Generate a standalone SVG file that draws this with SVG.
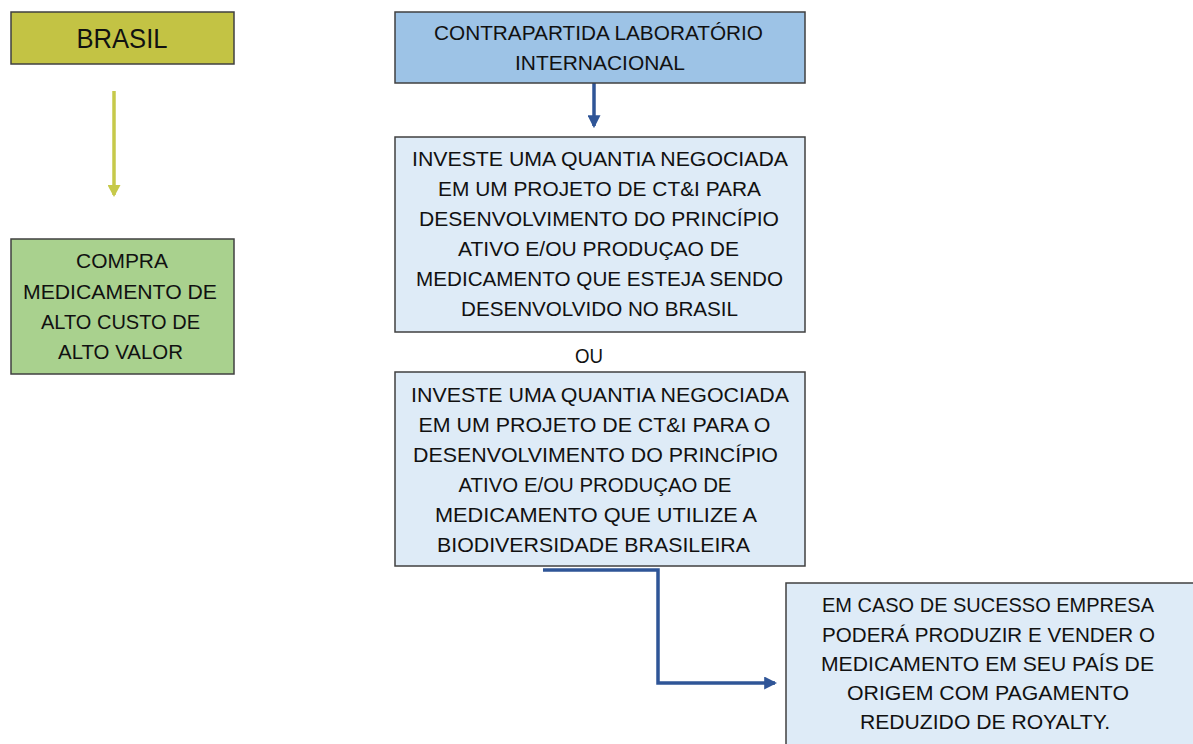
<svg xmlns="http://www.w3.org/2000/svg" width="1193" height="744" viewBox="0 0 1193 744">
<style>
.box{stroke:#404040;stroke-width:1.5}
.t{font-family:"Liberation Sans",Arial,sans-serif;font-size:21px;fill:#111;text-anchor:middle}
.conn{fill:none;stroke-width:3.5}
</style>
<defs>
<marker id="ab" markerUnits="userSpaceOnUse" markerWidth="13" markerHeight="13" refX="10" refY="6" orient="auto" viewBox="0 0 12 12">
<path d="M0,0 L12,6 L0,12 z" fill="#2F5597"/>
</marker>
<marker id="ay" markerUnits="userSpaceOnUse" markerWidth="13" markerHeight="13" refX="10" refY="6.5" orient="auto" viewBox="0 0 12 13">
<path d="M0,0 L12,6.5 L0,13 z" fill="#C6C94A"/>
</marker>
</defs>
<rect width="1193" height="744" fill="#ffffff"/>
<g id="connectors">
<line class="conn" x1="114" y1="91" x2="114" y2="195" stroke="#C6C94A" marker-end="url(#ay)"/>
<line class="conn" x1="594" y1="83" x2="594" y2="126" stroke="#2F5597" marker-end="url(#ab)"/>
<path class="conn" d="M543,570 H658 V683 H775" stroke="#2F5597" marker-end="url(#ab)"/>
</g>
<g id="brasil">
<rect class="box" x="11" y="12" width="223" height="52" fill="#C3C344"/>
<text class="t" x="122" y="48" style="font-size:28px" textLength="91" lengthAdjust="spacingAndGlyphs">BRASIL</text>
</g>
<g id="compra">
<rect class="box" x="11" y="239" width="223" height="135" fill="#A9D18E"/>
<text class="t" x="122" y="268" textLength="92" lengthAdjust="spacingAndGlyphs">COMPRA</text>
<text class="t" x="120" y="299" textLength="194" lengthAdjust="spacingAndGlyphs">MEDICAMENTO DE</text>
<text class="t" x="120.5" y="329" textLength="159" lengthAdjust="spacingAndGlyphs">ALTO CUSTO DE</text>
<text class="t" x="120.5" y="359" textLength="125" lengthAdjust="spacingAndGlyphs">ALTO VALOR</text>
</g>
<g id="contrapartida">
<rect class="box" x="395" y="12" width="410" height="71" fill="#9DC3E6"/>
<text class="t" x="598.5" y="40" textLength="329" lengthAdjust="spacingAndGlyphs">CONTRAPARTIDA LABORATÓRIO</text>
<text class="t" x="600" y="70" textLength="170" lengthAdjust="spacingAndGlyphs">INTERNACIONAL</text>
</g>
<g id="investe1">
<rect class="box" x="395" y="137" width="410" height="195" fill="#DEEBF7"/>
<text class="t" x="600" y="166" textLength="376" lengthAdjust="spacingAndGlyphs">INVESTE UMA QUANTIA NEGOCIADA</text>
<text class="t" x="599.5" y="196" textLength="323" lengthAdjust="spacingAndGlyphs">EM UM PROJETO DE CT&amp;I PARA</text>
<text class="t" x="599" y="226" textLength="360" lengthAdjust="spacingAndGlyphs">DESENVOLVIMENTO DO PRINCÍPIO</text>
<text class="t" x="598.5" y="256" textLength="281" lengthAdjust="spacingAndGlyphs">ATIVO E/OU PRODUÇAO DE</text>
<text class="t" x="599.5" y="286" textLength="367" lengthAdjust="spacingAndGlyphs">MEDICAMENTO QUE ESTEJA SENDO</text>
<text class="t" x="599.5" y="316" textLength="277" lengthAdjust="spacingAndGlyphs">DESENVOLVIDO NO BRASIL</text>
</g>
<g id="ou">
<text class="t" x="589" y="363" textLength="28" lengthAdjust="spacingAndGlyphs">OU</text>
</g>
<g id="investe2">
<rect class="box" x="395" y="372" width="410" height="194" fill="#DEEBF7"/>
<text class="t" x="600" y="402" textLength="378" lengthAdjust="spacingAndGlyphs">INVESTE UMA QUANTIA NEGOCIADA</text>
<text class="t" x="594.5" y="432" textLength="352" lengthAdjust="spacingAndGlyphs">EM UM PROJETO DE CT&amp;I PARA O</text>
<text class="t" x="595.5" y="462" textLength="365" lengthAdjust="spacingAndGlyphs">DESENVOLVIMENTO DO PRINCÍPIO</text>
<text class="t" x="595" y="492" textLength="273" lengthAdjust="spacingAndGlyphs">ATIVO E/OU PRODUÇAO DE</text>
<text class="t" x="596" y="522" textLength="322" lengthAdjust="spacingAndGlyphs">MEDICAMENTO QUE UTILIZE A</text>
<text class="t" x="593.5" y="552" textLength="313" lengthAdjust="spacingAndGlyphs">BIODIVERSIDADE BRASILEIRA</text>
</g>
<g id="sucesso">
<rect class="box" x="786" y="583" width="420" height="175" fill="#DEEBF7"/>
<text class="t" x="988" y="612" textLength="332" lengthAdjust="spacingAndGlyphs">EM CASO DE SUCESSO EMPRESA</text>
<text class="t" x="988.5" y="641.5" textLength="333" lengthAdjust="spacingAndGlyphs">PODERÁ PRODUZIR E VENDER O</text>
<text class="t" x="987.5" y="670.5" textLength="333" lengthAdjust="spacingAndGlyphs">MEDICAMENTO EM SEU PAÍS DE</text>
<text class="t" x="988" y="699.5" textLength="282" lengthAdjust="spacingAndGlyphs">ORIGEM COM PAGAMENTO</text>
<text class="t" x="985" y="728.5" textLength="250" lengthAdjust="spacingAndGlyphs">REDUZIDO DE ROYALTY.</text>
</g>
</svg>
